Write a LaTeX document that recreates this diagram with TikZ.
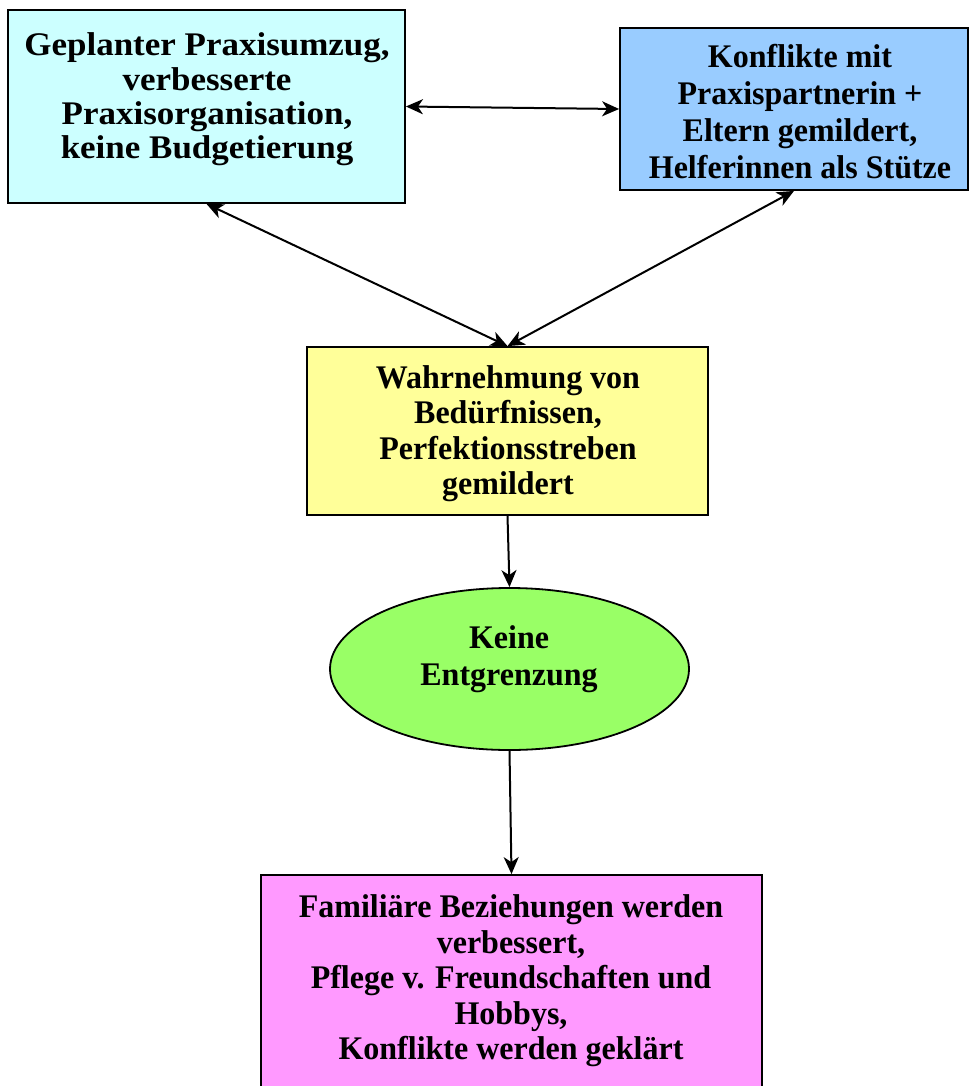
\documentclass[tikz,border=0pt]{standalone}
\usepackage{fontspec}
\setmainfont{Liberation Serif}
\newfontfamily\widefont[FakeStretch=1.06]{Liberation Serif}
\newfontfamily\narrowfont[FakeStretch=0.97]{Liberation Serif}
\usetikzlibrary{arrows.meta,shapes.geometric}
\definecolor{cyanfill}{HTML}{CCFFFF}
\definecolor{bluefill}{HTML}{99CCFF}
\definecolor{yellowfill}{HTML}{FFFF99}
\definecolor{greenfill}{HTML}{99FF66}
\definecolor{pinkfill}{HTML}{FF99FF}
\tikzset{
  box/.style={draw=black, line width=1.8pt, inner sep=0pt},
  label/.style={font=\narrowfont\fontsize{33}{35.5}\selectfont\bfseries, align=center, inner sep=0pt},
  looselabel/.style={font=\narrowfont\fontsize{33}{37}\selectfont\bfseries, align=center, inner sep=0pt},
  widelabel/.style={font=\widefont\fontsize{33}{34.3}\selectfont\bfseries, align=center, inner sep=0pt},
  tip/.tip={Stealth[length=17pt,width=15pt,inset=5pt]},
  link/.style={line width=2pt, -tip},
  both/.style={line width=2pt, tip-tip},
}
\begin{document}
\begin{tikzpicture}[x=1pt,y=-1pt]
\useasboundingbox (0,0) rectangle (969,1086);
\clip (0,0) rectangle (969,1086);
\fill[white] (0,0) rectangle (969,1086);

% boxes
\node[box, fill=cyanfill, minimum width=397pt, minimum height=193pt] (plan) at (206.5,106.5) {};
\node[box, fill=bluefill, minimum width=348pt, minimum height=162pt] (konf) at (794,109) {};
\node[box, fill=yellowfill, minimum width=401pt, minimum height=168pt] (wahr) at (507.5,431) {};
\node[box, ellipse, fill=greenfill, minimum width=359pt, minimum height=162pt] (keine) at (509.5,669) {};
\node[box, fill=pinkfill, minimum width=501pt, minimum height=230pt] (fam) at (511.5,990) {};

% texts
\node[widelabel] (tplan) at (207,99.5) {Geplanter Praxisumzug,\\verbesserte\\Praxisorganisation,\\keine Budgetierung};
\node[looselabel] (tkonf) at (800,112) {Konflikte mit\\Praxispartnerin +\\Eltern gemildert,\\Helferinnen als Stütze};
\node[label] (twahr) at (508,433.5) {Wahrnehmung von\\Bedürfnissen,\\Perfektionsstreben\\gemildert};
\node[looselabel] (tkeine) at (509,659) {Keine\\Entgrenzung};
\node[label] (tfam) at (511,981) {Familiäre Beziehungen werden\\verbessert,\\Pflege v. Freundschaften und\\Hobbys,\\Konflikte werden geklärt};

% connectors
\draw[both] (plan.east) -- (konf.west);
\draw[both] (plan.south) -- (wahr.north);
\draw[both] (konf.south) -- (wahr.north);
\draw[link] (wahr.south) -- (keine.north);
\draw[link] (keine.south) -- (fam.north);
\end{tikzpicture}
\end{document}
